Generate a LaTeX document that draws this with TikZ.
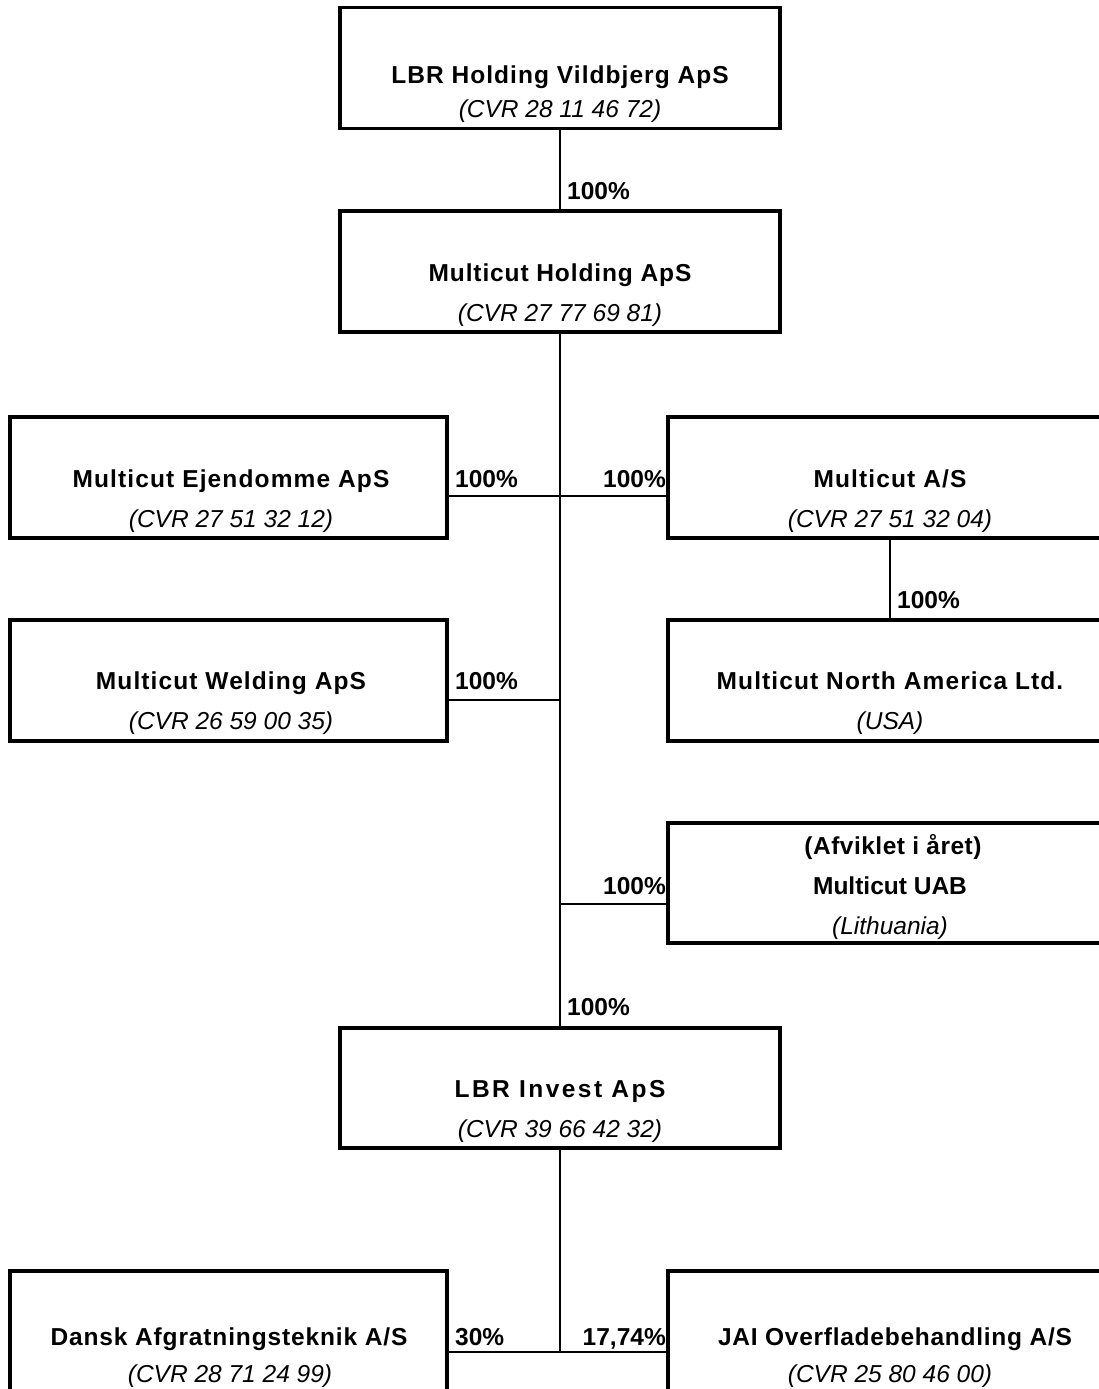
\documentclass[tikz,border=0pt]{standalone}
\usepackage{fontspec}
\setmainfont{Liberation Sans}
\begin{document}
\begin{tikzpicture}[x=1pt,y=-1pt,
  box/.style={draw=black,line width=3.5pt,fill=white,inner sep=0pt,minimum width=#1,minimum height=121pt},
  box/.default=440pt,
  ttl/.style={anchor=base,inner sep=0pt,font=\fontsize{24.5}{29}\selectfont\bfseries\addfontfeature{LetterSpace=#1}},
  ttl/.default=4.3,
  cvr/.style={anchor=base,inner sep=0pt,font=\fontsize{24.5}{29}\selectfont\itshape},
  pct/.style={inner sep=0pt,font=\fontsize{24.5}{29}\selectfont\bfseries},
  conn/.style={draw=black,line width=2pt}]
\useasboundingbox (0,0) rectangle (1099,1389);
\clip (0,0) rectangle (1099,1389);
\fill[white] (0,0) rectangle (1099,1389);
% junction coordinates
\coordinate (j1) at (560,496);
\coordinate (j2) at (560,700);
\coordinate (j3) at (560,904);
\coordinate (j4) at (560,1352);
% boxes
\node[box] (b1) at (560,68) {};
\node[box] (b2) at (560,271.5) {};
\node[box=437pt] (ej) at (228.5,477.5) {};
\node[box] (mas) at (888,477.5) {};
\node[box=437pt] (wel) at (228.5,680.5) {};
\node[box] (na) at (888,680.5) {};
\node[box,minimum height=120pt] (uab) at (888,883) {};
\node[box,minimum height=120pt] (inv) at (560,1088) {};
\node[box=437pt,minimum height=140pt] (dan) at (228.5,1341) {};
\node[box,minimum height=140pt] (jai) at (888,1341) {};
% connectors
\draw[conn] (b1.south) -- (b2.north);
\draw[conn] (b2.south) -- (inv.north);
\draw[conn] (ej.east |- j1) -- (mas.west |- j1);
\draw[conn] (mas.south -| 890,0) -- (na.north -| 890,0);
\draw[conn] (wel.east |- j2) -- (j2);
\draw[conn] (j3) -- (uab.west |- j3);
\draw[conn] (inv.south) -- (j4);
\draw[conn] (dan.east |- j4) -- (jai.west |- j4);
% texts
\node[ttl] (t1) at (560,84) {LBR Holding Vildbjerg ApS};
\node[cvr] (c1) at (560,117) {(CVR 28 11 46 72)};
\node[ttl=3.6] (t2) at (560,281) {Multicut Holding ApS};
\node[cvr] (c2) at (560,321) {(CVR 27 77 69 81)};
\node[ttl=4.6] (tej) at (231,487) {Multicut Ejendomme ApS};
\node[cvr] (cej) at (231,527) {(CVR 27 51 32 12)};
\node[ttl=4.6] (tmas) at (890,487) {Multicut A/S};
\node[cvr] (cmas) at (890,527) {(CVR 27 51 32 04)};
\node[ttl=4.5] (twel) at (231,689) {Multicut Welding ApS};
\node[cvr] (cwel) at (231,729) {(CVR 26 59 00 35)};
\node[ttl=4.5] (tna) at (890,689) {Multicut North America Ltd.};
\node[cvr] (cna) at (890,729) {(USA)};
\node[ttl=2] (tuab0) at (893,854) {(Afviklet i året)};
\node[ttl=0] (tuab) at (890,894) {Multicut UAB};
\node[cvr] (cuab) at (890,934) {(Lithuania)};
\node[ttl=10] (tinv) at (560,1097) {LBR Invest ApS};
\node[cvr] (cinv) at (560,1137) {(CVR 39 66 42 32)};
\node[ttl=3.5] (tdan) at (229,1345) {Dansk Afgratningsteknik A/S};
\node[cvr] (cdan) at (230,1382) {(CVR 28 71 24 99)};
\node[ttl=3] (tjai) at (895,1345) {JAI Overfladebehandling A/S};
\node[cvr] (cjai) at (890,1382) {(CVR 25 80 46 00)};
% percentages
\node[pct,anchor=base west] (p1) at (567,199) {100\%};
\node[pct,anchor=base west] (pej) at (455,487) {100\%};
\node[pct,anchor=base east] (pmas) at (666,487) {100\%};
\node[pct,anchor=base west] (pna) at (897,608) {100\%};
\node[pct,anchor=base west] (pwel) at (455,689) {100\%};
\node[pct,anchor=base east] (puab) at (666,894) {100\%};
\node[pct,anchor=base west] (pinv) at (567,1015) {100\%};
\node[pct,anchor=base west] (pdan) at (455,1345) {30\%};
\node[pct,anchor=base east] (pjai) at (666,1345) {17,74\%};
\end{tikzpicture}
\end{document}
